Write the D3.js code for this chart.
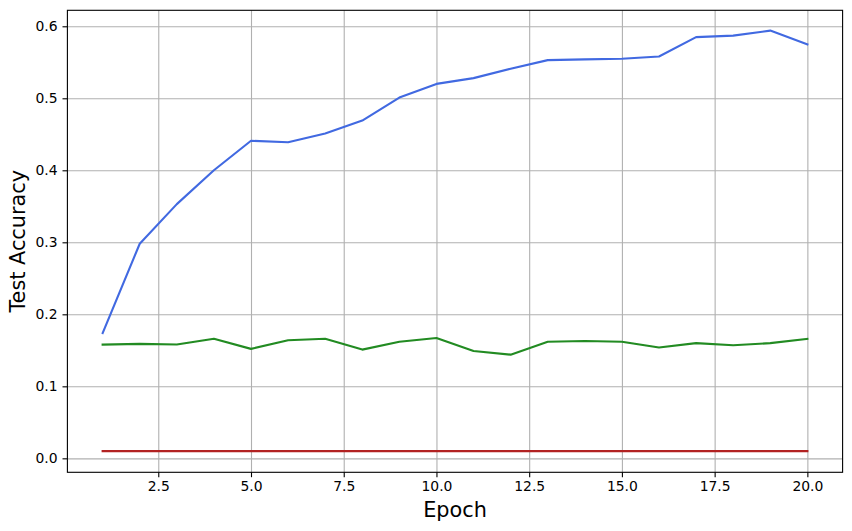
<!DOCTYPE html>
<html>
<head>
<meta charset="utf-8">
<script src="https://cdn.jsdelivr.net/npm/d3@7"></script>
<style>
  body { margin: 0; background: #fff; }
  svg { display: block; font-family: "DejaVu Sans", sans-serif; }
</style>
</head>
<body>
<svg id="chart" width="852" height="531"></svg>
<script>
// data
var epochs = d3.range(1, 21);
var blueAcc = [0.174, 0.298, 0.353, 0.400, 0.441, 0.439, 0.451, 0.469, 0.501, 0.520,
               0.528, 0.541, 0.553, 0.554, 0.555, 0.558, 0.585, 0.587, 0.594, 0.575];
var greenAcc = [0.158, 0.159, 0.158, 0.166, 0.152, 0.164, 0.166, 0.151, 0.162, 0.167,
                0.149, 0.144, 0.162, 0.163, 0.162, 0.154, 0.160, 0.157, 0.160, 0.166];
var redAcc = [0.010, 0.010, 0.010, 0.010, 0.010, 0.010, 0.010, 0.010, 0.010, 0.010,
              0.010, 0.010, 0.010, 0.010, 0.010, 0.010, 0.010, 0.010, 0.010, 0.010];
var xTicks = [2.5, 5.0, 7.5, 10.0, 12.5, 15.0, 17.5, 20.0];
var yTicks = [0.0, 0.1, 0.2, 0.3, 0.4, 0.5, 0.6];

var svg = d3.select("#chart");
// plot box (window.top is reserved, so use other names)
var boxLeft = 67.4, boxTop = 10.3, boxRight = 842.6, boxBottom = 472.3;

var x = d3.scaleLinear().domain([0.05, 20.95]).range([boxLeft, boxRight]);
var y = d3.scaleLinear().domain([-0.0194, 0.6222]).range([boxBottom, boxTop]);

// grid
svg.append("g")
    .attr("transform", "translate(0," + boxTop + ")")
    .call(d3.axisBottom(x).tickValues(xTicks).tickFormat("").tickSize(boxBottom - boxTop))
    .call(function(g) { g.select(".domain").remove(); })
    .selectAll("line").attr("stroke", "#b0b0b0").attr("stroke-width", 1.1);

svg.append("g")
    .attr("transform", "translate(" + boxLeft + ",0)")
    .call(d3.axisRight(y).tickValues(yTicks).tickFormat("").tickSize(boxRight - boxLeft))
    .call(function(g) { g.select(".domain").remove(); })
    .selectAll("line").attr("stroke", "#b0b0b0").attr("stroke-width", 1.1);

// lines
var series = [
    {values: blueAcc, color: "#4169e1"},
    {values: greenAcc, color: "#228b22"},
    {values: redAcc, color: "#b22222"}
];

var line = d3.line()
    .x(function(d) { return x(d[0]); })
    .y(function(d) { return y(d[1]); });

series.forEach(function(s) {
    svg.append("path")
        .datum(epochs.map(function(e, i) { return [e, s.values[i]]; }))
        .attr("fill", "none")
        .attr("stroke", s.color)
        .attr("stroke-width", 2.1)
        .attr("stroke-linejoin", "round")
        .attr("stroke-linecap", "square")
        .attr("d", line);
});

// axes
var xAxis = svg.append("g")
    .attr("transform", "translate(0," + boxBottom + ")")
    .call(d3.axisBottom(x).tickValues(xTicks).tickFormat(d3.format(".1f")).tickSize(4.9).tickPadding(4.2));
var yAxis = svg.append("g")
    .attr("transform", "translate(" + boxLeft + ",0)")
    .call(d3.axisLeft(y).tickValues(yTicks).tickFormat(d3.format(".1f")).tickSize(4.9).tickPadding(4.9));

[xAxis, yAxis].forEach(function(g) {
    g.select(".domain").remove();
    g.selectAll("line").attr("stroke", "#000").attr("stroke-width", 1.1);
    g.selectAll("text").attr("fill", "#000").style("font-size", "13.9px")
        .style("font-family", "'DejaVu Sans', sans-serif");
});

// frame
svg.append("rect")
    .attr("x", boxLeft).attr("y", boxTop)
    .attr("width", boxRight - boxLeft).attr("height", boxBottom - boxTop)
    .attr("fill", "none").attr("stroke", "#000").attr("stroke-width", 1.1);

// labels
svg.append("text")
    .attr("x", (boxLeft + boxRight) / 2)
    .attr("y", 516.7)
    .attr("text-anchor", "middle")
    .style("font-size", "20.8px")
    .text("Epoch");

svg.append("g")
    .attr("transform", "translate(" + 25 + "," + (boxTop + boxBottom) / 2 + ")")
    .append("text")
    .attr("text-anchor", "middle")
    .attr("transform", "rotate(-90)")
    .style("font-size", "20.8px")
    .text("Test Accuracy");
</script>
</body>
</html>
